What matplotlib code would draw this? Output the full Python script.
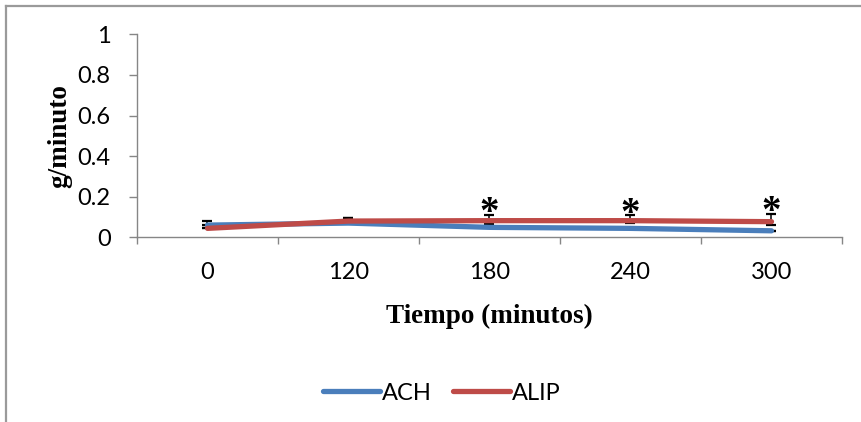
import numpy as np
import matplotlib.pyplot as plt
from matplotlib.lines import Line2D

# Data
tiempos = ['0', '120', '180', '240', '300']
ach = [0.060, 0.070, 0.049, 0.044, 0.032]
alip = [0.044, 0.080, 0.082, 0.082, 0.077]
ach_err_low = [0.0, 0.0, 0.0, 0.0, 0.0]
ach_err_up = [0.020, 0.027, 0.0, 0.0, 0.0]
alip_err_low = [0.0, 0.0, 0.015, 0.013, 0.017]
alip_err_up = [0.0, 0.017, 0.028, 0.026, 0.038]
sig = [False, False, True, True, True]
yticks = [0, 0.2, 0.4, 0.6, 0.8, 1]

blue = '#4A7EBB'
red = '#BE4B48'
grey = '#868686'

fig = plt.figure(figsize=(8.62, 4.22), dpi=100)
ax = fig.add_axes([137 / 862, 1 - 237.3 / 422, (842 - 137) / 862, (237.3 - 34.3) / 422])

x = np.arange(len(tiempos))

# error bars first, lines on top
ax.errorbar(x, ach, yerr=[ach_err_low, ach_err_up], fmt='none', ecolor='black',
            elinewidth=1.1, capsize=3.6, capthick=1.6, zorder=2)
ax.errorbar(x, alip, yerr=[alip_err_low, alip_err_up], fmt='none', ecolor='black',
            elinewidth=1.1, capsize=3.6, capthick=1.6, zorder=2)
ax.plot(x, ach, color=blue, lw=3.8, solid_capstyle='round', solid_joinstyle='round', zorder=3)
ax.plot(x, alip, color=red, lw=3.8, solid_capstyle='round', solid_joinstyle='round', zorder=4)

# significance stars
for i, s in enumerate(sig):
    if s:
        top = alip[i] + alip_err_up[i]
        ax.text(x[i], top + 0.006, '*', ha='center', va='center', fontsize=28,
                fontweight='bold', family='Liberation Serif', zorder=5)

ax.set_xlim(-0.5, len(tiempos) - 0.5)
ax.set_ylim(0, 1)

# category ticks sit between the categories, labels in the middle
ax.set_xticks(np.arange(-0.5, len(tiempos)))
ax.set_xticklabels([])
ax.set_xticks(x, minor=True)
ax.set_xticklabels(tiempos, minor=True, family='Lato', fontsize=17)
ax.tick_params(axis='x', which='major', length=5, width=1, color=grey, direction='out')
ax.tick_params(axis='x', which='minor', length=0, pad=18)

ax.set_yticks(yticks)
ax.set_yticklabels([f'{v:g}' for v in yticks], family='Lato', fontsize=17)
ax.tick_params(axis='y', length=6, width=1, color=grey, direction='out', pad=13)

for side in ['top', 'right']:
    ax.spines[side].set_visible(False)
for side in ['left', 'bottom']:
    ax.spines[side].set_color(grey)
    ax.spines[side].set_linewidth(1)

ax.set_xlabel('Tiempo (minutos)', family='Liberation Serif', fontweight='bold', fontsize=19.5)
ax.xaxis.set_label_coords(0.5, (237.3 - 304) / 203)
ax.set_ylabel('g/minuto', family='Liberation Serif', fontweight='bold', fontsize=19.5)
ax.yaxis.set_label_coords((72 - 137) / 705, 0.5)

handles = [Line2D([], [], color=blue, lw=3.8, solid_capstyle='round'),
           Line2D([], [], color=red, lw=3.8, solid_capstyle='round')]
fig.legend(handles, ['ACH', 'ALIP'], loc='center', bbox_to_anchor=(442 / 862, 1 - 393 / 422),
           ncol=2, frameon=False, prop={'family': 'Lato', 'size': 17},
           handlelength=2.4, handletextpad=0.1, columnspacing=0.9)

# chart border (only top and left edges show in the crop)
fig.add_artist(Line2D([6.5 / 862, 6.5 / 862], [0, 1 - 6 / 422], color='#9a9a9a', lw=1.6))
fig.add_artist(Line2D([6.5 / 862, 1], [1 - 6 / 422, 1 - 6 / 422], color='#9a9a9a', lw=1.6))

fig.savefig('out.png', dpi=100)
